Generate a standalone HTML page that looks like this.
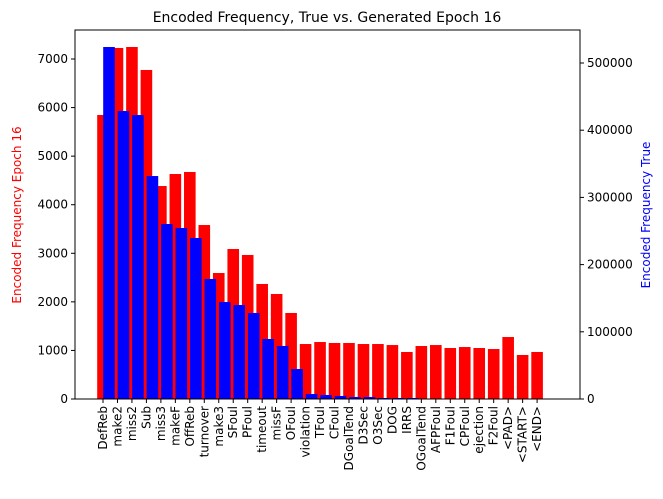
<!DOCTYPE html>
<html><head><meta charset="utf-8"><style>
body{margin:0;background:#fff;}
svg{font-family:"DejaVu Sans","Liberation Sans",sans-serif;}
</style></head><body>
<svg id="chart" width="663" height="494" xmlns="http://www.w3.org/2000/svg">
<text x="327" y="22" font-size="14" text-anchor="middle">Encoded Frequency, True vs. Generated Epoch 16</text>
<text transform="translate(21,215) rotate(-90)" font-size="12" fill="red" text-anchor="middle">Encoded Frequency Epoch 16</text>
<text transform="translate(650,215) rotate(-90)" font-size="12" fill="blue" text-anchor="middle">Encoded Frequency True</text>
<g id="bars"></g><g id="axes"></g>
</svg>
<script>
const categories=["DefReb","make2","miss2","Sub","miss3","makeF","OffReb","turnover","make3","SFoul","PFoul","timeout","missF","OFoul","violation","TFoul","CFoul","DGoalTend","D3Sec","O3Sec","DOG","IRRS","OGoalTend","AFPFoul","F1Foul","CPFoul","ejection","F2Foul","<PAD>","<START>","<END>"];
const generatedValues=[5847,7227,7247,6774,4385,4632,4674,3582,2594,3088,2965,2368,2162,1771,1132,1173,1153,1153,1132,1132,1111,968,1091,1111,1050,1070,1050,1029,1276,906,968];
const trueValues=[523800,428600,422600,331800,260400,254500,239600,178600,144300,139900,128000,89300,78900,44600,7400,6000,4500,3000,3000,1500,1500,1500,0,0,0,0,0,0,0,0,0];
const leftTicks=[0,1000,2000,3000,4000,5000,6000,7000];
const rightTicks=[0,100000,200000,300000,400000,500000];
const L=75,R=580,T=30,B=399;
const xPos=i=>103+i*14.47;
const yLeft=v=>B-v*0.048571;
const yRight=v=>B-v*0.000672;
const NS="http://www.w3.org/2000/svg";
const bars=document.getElementById('bars'),axes=document.getElementById('axes');
function mk(tag,attrs,parent){const e=document.createElementNS(NS,tag);for(const k in attrs)e.setAttribute(k,attrs[k]);parent.appendChild(e);return e;}
const bw=11.6;
generatedValues.forEach((v,i)=>{const r=mk('rect',{x:xPos(i)-bw/2,y:yLeft(v),width:bw,height:B-yLeft(v),fill:'red'},bars);

});
trueValues.forEach((v,i)=>{const r=mk('rect',{x:xPos(i)-bw/2+6,y:yRight(v),width:bw,height:B-yRight(v),fill:'blue'},bars);

});
const frame=mk('rect',{x:L,y:T,width:R-L,height:B-T,fill:'none',stroke:'#000','stroke-width':1},axes);


leftTicks.forEach(v=>{const y=yLeft(v);mk('line',{x1:L-4,x2:L,y1:y,y2:y,stroke:'#000'},axes);
const t=mk('text',{x:L-7,y:y+4,'font-size':12,'text-anchor':'end'},axes);t.textContent=v;

});
rightTicks.forEach(v=>{const y=yRight(v);mk('line',{x1:R,x2:R+4,y1:y,y2:y,stroke:'#000'},axes);
const t=mk('text',{x:R+7,y:y+4,'font-size':12},axes);t.textContent=v;

});
categories.forEach((c,i)=>{const x=xPos(i);mk('line',{x1:x,x2:x,y1:B,y2:B+4,stroke:'#000'},axes);
const t=mk('text',{transform:`translate(${x+4},${B+7}) rotate(-90)`,'font-size':12,'text-anchor':'end'},axes);t.textContent=c;

});
</script>
</body></html>
